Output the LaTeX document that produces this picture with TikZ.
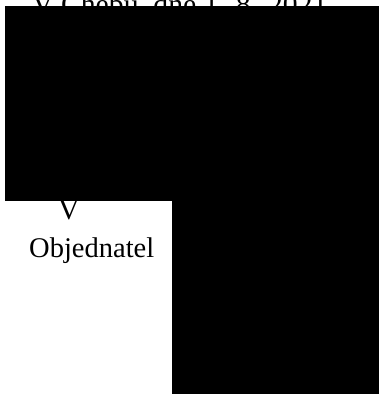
\documentclass[tikz,border=0pt]{standalone}
\usepackage{fontspec}
\setmainfont{Liberation Serif}
\usepackage{tikz}

\begin{document}
\begin{tikzpicture}[x=1pt, y=-1pt, every node/.style={inner sep=0pt, anchor=base west, font=\fontsize{29.7}{34}\selectfont}]
    \useasboundingbox (0,0) rectangle (379,394);
    \node (place) at (32,14) {V Chebu, dne 1. 8. 2021};
    \node (mark) at (58,219) {V};
    \node[font=\fontsize{28.5}{34}\selectfont] (client) at (29,257) {Objednatel};

    \fill[black] (5,6) rectangle (379,201);
    \fill[black] (172,201) rectangle (379,394);
\end{tikzpicture}
\end{document}
